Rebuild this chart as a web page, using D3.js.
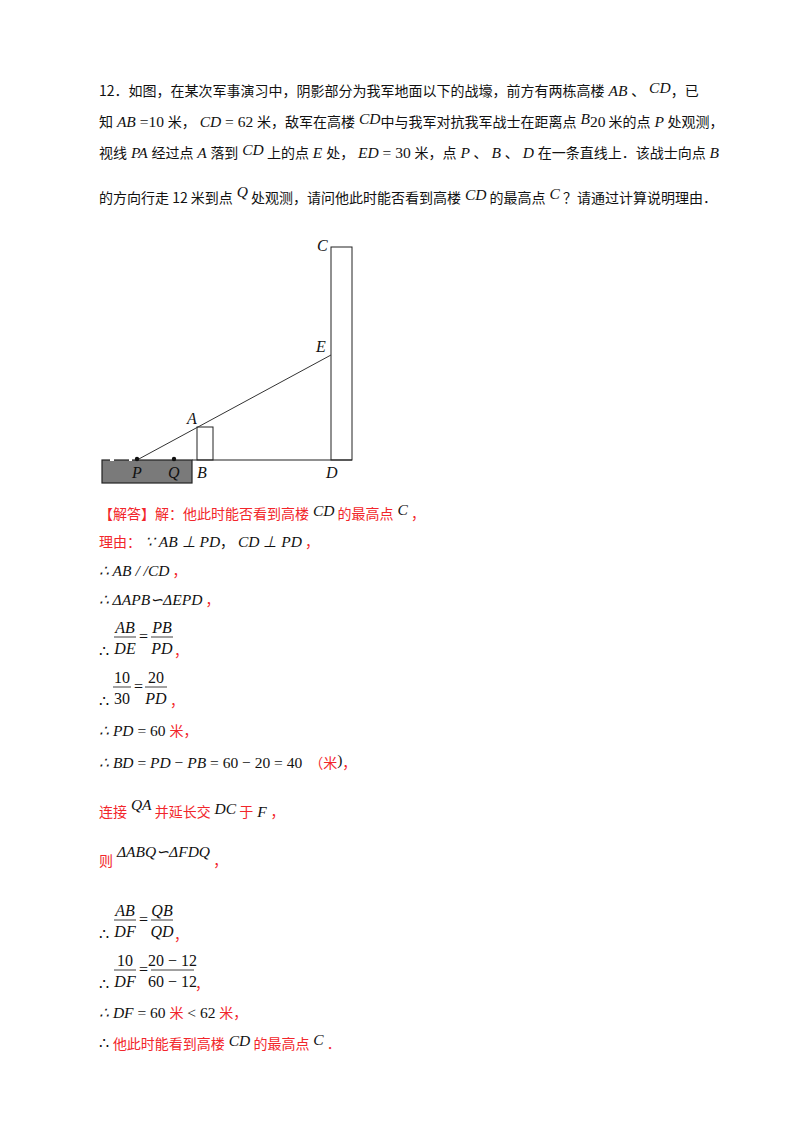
<!DOCTYPE html>
<html><head><meta charset="utf-8">
<script src="https://cdn.jsdelivr.net/npm/d3@7/dist/d3.min.js"></script>
<style>body{margin:0;background:#fff}</style></head>
<body><svg id="s" width="800" height="1132"></svg>
<script>
// figure data (diagram units)
const groundX = [90, 250];
const trench = {x0: 0, x1: 90, depth: -23};
const buildingAB = {x0: 95, x1: 111, h: 33};
const buildingCD = {x0: 229, x1: 250, h: 213};
const pointP = {x: 35, y: 0};
const pointQ = {x: 72, y: 0};
const pointE = {x: 229, y: 105};
const figLabels = [
  {t:"C", x:215, y:209}, {t:"E", x:214, y:108}, {t:"A", x:85, y:36},
  {t:"P", x:30, y:-18}, {t:"Q", x:66, y:-18}, {t:"B", x:95, y:-18}, {t:"D", x:224, y:-18}
];

const svg = d3.select("#s");
const X = d3.scaleLinear().domain([0,250]).range([102,352]);
const Y = d3.scaleLinear().domain([0,213]).range([460,247]);
const RED = "#f2262b";
const ZH = "'Noto Sans CJK SC'", MATH = "'Liberation Serif'";

svg.append("rect").attr("x",X(trench.x0)).attr("y",Y(0)).attr("width",X(trench.x1)-X(trench.x0))
  .attr("height",Y(trench.depth)-Y(0)).attr("fill","#7a7a7a").attr("stroke","#222").attr("stroke-width",1.2);
[[8,12],[27,30]].forEach(g=>svg.append("line").attr("x1",X(g[0])).attr("x2",X(g[1])).attr("y1",Y(0)).attr("y2",Y(0)).attr("stroke","#fff").attr("stroke-width",2));
svg.append("line").attr("x1",X(groundX[0])).attr("x2",X(groundX[1])).attr("y1",Y(0)).attr("y2",Y(0)).attr("stroke","#222").attr("stroke-width",1.2);
[buildingAB, buildingCD].forEach(b=>svg.append("rect").attr("x",X(b.x0)).attr("y",Y(b.h))
  .attr("width",X(b.x1)-X(b.x0)).attr("height",Y(0)-Y(b.h)).attr("fill","none").attr("stroke","#222").attr("stroke-width",1));
svg.append("line").attr("x1",X(pointP.x)).attr("y1",Y(pointP.y)).attr("x2",X(pointE.x)).attr("y2",Y(pointE.y)).attr("stroke","#333").attr("stroke-width",1);
[pointP, pointQ].forEach(p=>svg.append("circle").attr("cx",X(p.x)).attr("cy",Y(p.y)-1).attr("r",2.2).attr("fill","#111"));
figLabels.forEach(l=>svg.append("text").attr("x",X(l.x)).attr("y",Y(l.y)).attr("font-family",MATH)
  .attr("font-style","italic").attr("font-size",16).attr("fill","#111").text(l.t));

function line(x, y, segs, fs=14){
  const t = svg.append("text").attr("x",x).attr("y",y).attr("font-size",fs).attr("xml:space","preserve");
  segs.forEach(s=>{
    const [txt, ty, dy] = s;
    const sp = t.append("tspan").text(txt).attr("y", y + (dy||0));
    const math = ty.includes("m") || ty.includes("n");
    sp.attr("font-family", math?MATH:ZH).attr("fill", ty.includes("r")?RED:"#111")
      .attr("font-style", ty.includes("m")?"italic":"normal");
    if(math) sp.attr("font-size", fs+1.5);
  });
}
function frac(x, y, num, den, w){
  const g = svg.append("g");
  g.append("text").attr("x",x+w/2).attr("y",y-4).attr("text-anchor","middle").attr("font-family",MATH).attr("font-size",16).attr("font-style",/\d/.test(num)?"normal":"italic").attr("fill","#111").text(num);
  g.append("line").attr("x1",x).attr("x2",x+w).attr("y1",y).attr("y2",y).attr("stroke","#111").attr("stroke-width",0.8);
  g.append("text").attr("x",x+w/2).attr("y",y+17).attr("text-anchor","middle").attr("font-family",MATH).attr("font-size",16).attr("font-style",/^[\d\s−]+$/.test(den)?"normal":"italic").attr("fill","#111").text(den);
}
function eqs(x,y){ svg.append("text").attr("x",x).attr("y",y+5).attr("font-family",MATH).attr("font-size",16).attr("fill","#111").text("="); }

const L = 99;
line(L, 96, [["12．如图，在某次军事演习中，阴影部分为我军地面以下的战壕，前方有两栋高楼","z"],[" AB ","m"],["、","z"],[" CD","m",-3],["，已","z"]]);
line(L, 127, [["知","z"],[" AB ","m"],["=10 ","n"],["米，","z"],[" CD ","m"],["= 62 ","n"],["米，敌军在高楼","z"],[" CD","m",-3],["中与我军对抗我军战士在距离点","z"],[" B","m",-3],["20","n"],[" 米的点","z"],[" P ","m"],["处观测，","z"]]);
line(L, 158, [["视线","z"],[" PA ","m"],["经过点","z"],[" A ","m"],["落到","z"],[" CD","m",-3],[" 上的点","z"],[" E ","m"],["处，","z"],[" ED ","m"],["= 30 ","n"],["米，点","z"],[" P ","m"],["、","z"],[" B ","m"],["、","z"],[" D ","m"],["在一条直线上．该战士向点","z"],[" B","m"]]);
line(L, 203, [["的方向行走 12 米到点","z"],[" Q","m",-6],[" 处观测，请问他此时能否看到高楼","z"],[" CD","m",-3],[" 的最高点","z"],[" C","m",-4],[" ？请通过计算说明理由．","z"]]);

line(L, 519, [["【解答】解：他此时能否看到高楼","r"],[" CD","m",-3],[" 的最高点","r"],[" C","m",-4],[" ，","r"]]);
line(L, 547, [["理由：","r"],[" ∵ AB ⊥ PD","m"],["，","z"],[" CD ⊥ PD","m"],[" ，","r"]]);
line(L, 576, [["∴ AB / /CD","m"],[" ，","r"]]);
line(L, 605, [["∴ ΔAPB∽ΔEPD","m"],[" ，","r"]]);
line(L, 657, [["∴","n"]]);
frac(114, 637, "AB", "DE", 22); eqs(139, 637); frac(151, 637, "PB", "PD", 22);
line(174, 656, [["，","r"]]);
line(L, 707, [["∴","n"]]);
frac(113, 687, "10", "30", 18); eqs(134, 687); frac(145, 687, "20", "PD", 22);
line(170, 706, [["，","r"]]);
line(L, 736, [["∴ PD ","m"],["= 60 ","n"],["米","r"],["，","r"]]);
line(L, 768, [["∴ BD ","m"],["= ","n"],["PD","m"],[" − ","n"],["PB","m"],[" = 60 − 20 = 40 ","n"],[" （米","r"],[")","n",-3],["，","r"]]);

line(L, 817, [["连接","r"],[" QA","m",-7],[" 并延长交","r"],[" DC","m",-3],[" 于","r"],[" F ","m"],["，","r"]]);
line(L, 866, [["则","r"],[" ΔABQ∽ΔFDQ","m",-9],[" ，","r"]]);
line(L, 940, [["∴","n"]]);
frac(114, 920, "AB", "DF", 22); eqs(139, 920); frac(151, 920, "QB", "QD", 22);
line(174, 940, [["，","r"]]);
line(L, 990, [["∴","n"]]);
frac(114, 970, "10", "DF", 22); eqs(139, 970); frac(151, 970, "20 − 12", "60 − 12", 43);
line(195, 989, [["，","r"]]);
line(L, 1018, [["∴ DF ","m"],["= 60 ","n"],["米","r"],[" < 62 ","n"],["米","r"],["，","r"]]);
line(L, 1049, [["∴ ","n"],["他此时能看到高楼","r"],[" CD","m",-3],[" 的最高点","r"],[" C","m",-4],[" ．","r"]]);
</script></body></html>
